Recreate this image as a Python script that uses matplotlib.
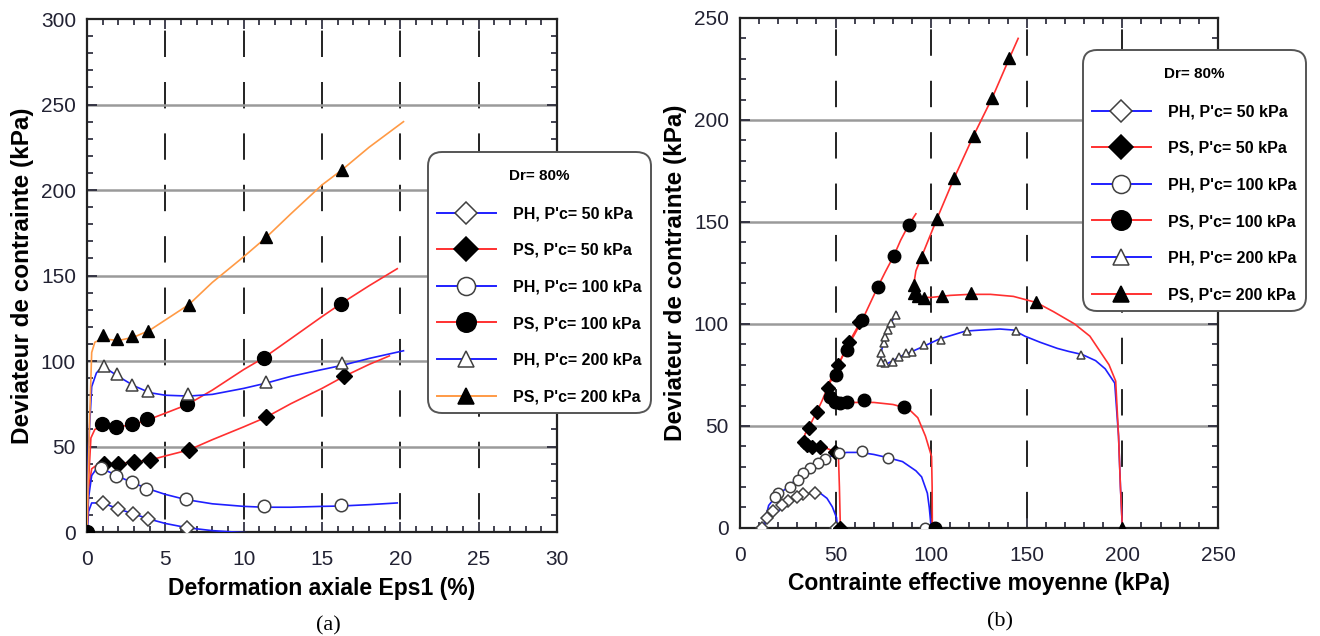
import numpy as np
import matplotlib
matplotlib.use("Agg")
import matplotlib.pyplot as plt
from matplotlib.lines import Line2D
from matplotlib.ticker import MultipleLocator

plt.rcParams['font.family'] = ['Liberation Sans', 'DejaVu Sans']
plt.rcParams['lines.scale_dashes'] = False

# ---------------- (a) deviateur vs deformation axiale ----------------
a_ph50_x = [0, 0.1, 0.3, 1, 2, 3, 4, 5, 6.4, 8, 10.3]
a_ph50_y = [0, 12, 17, 17, 13.5, 10.5, 7.5, 5, 2.5, 0.8, -0.5]
a_ph50_mx = [1.0, 1.95, 2.95, 3.9, 6.4]
a_ph50_my = [17, 13.5, 10.5, 7.6, 2.5]

a_ps50_x = [0, 0.1, 0.3, 0.6, 1, 2, 3, 4, 5, 6.5, 8, 10, 11.4, 13, 15, 16.4, 18, 19.3]
a_ps50_y = [0, 25, 37, 39, 40, 40, 41, 42, 44.5, 48, 54, 61.5, 67, 75, 84, 91, 98, 103]
a_ps50_mx = [1.09, 2.0, 3.0, 4.0, 6.5, 11.4, 16.4]
a_ps50_my = [40, 40, 41, 42, 48, 67, 91]

a_ph100_x = [0, 0.1, 0.3, 0.6, 1, 2, 3, 4, 5, 6.3, 8, 10, 11.3, 13, 15, 16.2, 18, 19.8]
a_ph100_y = [0, 20, 33, 37, 37, 32.5, 28.5, 25, 22, 19, 16.5, 15, 14.5, 14.5, 15, 15.2, 16, 17]
a_ph100_mx = [0.9, 1.85, 2.86, 3.76, 6.3, 11.3, 16.2]
a_ph100_my = [37.4, 33, 29, 25, 19.3, 15, 15.6]

a_ps100_x = [0, 0.1, 0.25, 0.5, 1, 2, 3, 4, 5, 6.4, 8, 10, 11.3, 13, 15, 16.2, 18, 19.8]
a_ps100_y = [0, 30, 55, 60, 62, 61.5, 63, 66, 69.5, 74.5, 83, 95, 102, 113, 126, 133.5, 144, 154]
a_ps100_mx = [0, 0.95, 1.85, 2.85, 3.8, 6.4, 11.3, 16.2]
a_ps100_my = [0, 63, 61.5, 63, 66, 75, 102, 133.5]

a_ph200_x = [0, 0.1, 0.3, 0.6, 1, 2, 3, 4, 5, 6.5, 8, 10, 11.4, 13, 15, 16.3, 18, 20.2]
a_ph200_y = [0, 50, 85, 93, 97, 91, 85.5, 81.5, 80, 79.5, 80.5, 84, 87, 91, 95, 97.5, 101.5, 106]
a_ph200_mx = [1.06, 1.9, 2.9, 3.9, 6.45, 11.4, 16.3]
a_ph200_my = [97, 92.4, 86, 82.5, 81, 87.7, 98.8]

a_ps200_x = [0, 0.15, 0.3, 0.5, 1, 2, 3, 4, 5, 6.5, 8, 10, 11.4, 13, 15, 16.3, 18, 20.2]
a_ps200_y = [0, 60, 105, 111, 113, 112, 114, 118, 124, 133, 146, 161, 172, 186, 203, 212, 225, 240]
a_ps200_mx = [1.0, 1.9, 2.9, 3.9, 6.5, 11.4, 16.3]
a_ps200_my = [115, 113, 114.6, 117.5, 133, 172.5, 212]

# ---------------- (b) chemins de contrainte ----------------
b_ph50_x = [51, 50.5, 48.3, 45.5, 42, 39, 35, 31, 27, 23, 19, 15, 11.6]
b_ph50_y = [0, 5, 10.3, 14.5, 17, 17.5, 16.5, 15, 13, 10.5, 7.5, 4, 0]
b_ph50_mx = [50, 39.4, 33.2, 30, 25.2, 22, 17.4, 14.1, 11.6]
b_ph50_my = [0, 17.2, 16.5, 15, 13, 11, 8.3, 5, 0]

b_ps50_x = [52.5, 52, 51.5, 48, 44, 38, 35, 33.5, 34, 36, 38, 40.5, 43, 45, 48, 51, 54, 57, 60, 63, 65]
b_ps50_y = [0, 20, 35, 38, 39.5, 40, 40.8, 42.5, 46, 49, 53, 57.5, 62.5, 67, 73, 79, 85, 91, 96, 101, 104]
b_ps50_mx = [52.5, 49.9, 42, 37.7, 35, 33.3, 35.9, 40.3, 45.9, 51.1, 56.9, 62.5]
b_ps50_my = [0, 37.4, 39.9, 39.9, 40.7, 42.3, 48.9, 57, 68.5, 79.9, 91.3, 101]

b_ph100_x = [100, 99, 98, 95, 92, 85, 77, 70, 63, 56, 52, 47, 42, 37, 33, 29, 25, 21, 18, 15, 12]
b_ph100_y = [0, 10, 17, 25, 28, 32.5, 34.5, 36, 37, 37, 36.5, 35, 32.5, 29.5, 27, 23.5, 20, 17, 14.5, 11, 0]
b_ph100_mx = [97, 77.2, 63.6, 52, 44.6, 41, 36.8, 33.2, 30.5, 26.3, 20, 18.4]
b_ph100_my = [0, 34.3, 37.7, 36.8, 34, 31.8, 29.4, 27, 23.5, 20.1, 17.2, 15.2]

b_ps100_x = [100.6, 100.5, 100.2, 97, 93, 88, 80, 70, 60, 52, 48.5, 46, 45, 47, 50, 53, 56, 60, 64,
             68, 72, 76, 80.5, 84, 88.2, 92]
b_ps100_y = [0, 20, 35, 45, 54, 58.5, 60.5, 61.5, 61.5, 61.3, 62.5, 65, 68, 72, 77, 83, 88.5, 95, 102,
             110, 118, 125.5, 133.5, 141, 148.5, 154]
b_ps100_mx = [101.9, 85.8, 64.8, 56, 52.5, 49.9, 47.3, 50.4, 56, 63.9, 72, 80.5, 88.2]
b_ps100_my = [0, 59.2, 62.7, 61.9, 61.1, 61.9, 64.4, 75, 87.3, 102, 118, 133.5, 148.5]

b_ph200_x = [200, 199, 198, 196, 191, 186, 179, 172, 166, 157, 149, 143, 136, 126, 118, 111, 104, 96,
             90, 85, 80, 76, 74, 73.5, 75, 77, 79, 82]
b_ph200_y = [0, 20, 45, 71, 78, 82, 85, 86.5, 88, 91, 94, 97, 97.5, 97, 96.5, 94.5, 92.5, 89,
             86.5, 84.5, 82, 80, 81, 85, 90.5, 97, 100.5, 105.5]
b_ph200_mx = [200, 178.6, 144.4, 118.7, 105, 96, 90, 86.7, 83, 79.8, 76, 73.5, 73.5, 75.1, 76.1,
              77.2, 78.8, 81.4]
b_ph200_my = [0, 85, 96.6, 96.6, 92, 89.7, 86.4, 85.6, 84, 81.5, 80.8, 81.5, 85.6, 90.6, 93.7,
              97, 100.4, 104.4]

b_ps200_x = [200, 199, 198, 196.5, 193, 188, 183, 175, 164, 155, 143, 131, 120, 110, 100, 96, 93, 91,
             91, 92, 95, 103, 112, 122, 132, 141, 145.5]
b_ps200_y = [0, 20, 45, 72, 80, 87, 94, 100, 106, 110.5, 113.5, 114.5, 114.5, 114, 113, 113, 113.5, 116,
             120, 126, 133, 151.5, 171.5, 192, 211, 230.5, 240]
b_ps200_mx = [200, 155, 120.8, 105.6, 96, 93, 91, 91, 95, 103, 112, 122.4, 131.8, 140.8]
b_ps200_my = [0, 110.8, 115, 113.7, 112.7, 113.5, 115, 119, 133, 151.5, 171.6, 192, 211, 230.5]

labels = ["PH, P'c= 50 kPa", "PS, P'c= 50 kPa", "PH, P'c= 100 kPa",
          "PS, P'c= 100 kPa", "PH, P'c= 200 kPa", "PS, P'c= 200 kPa"]

BLUE = '#1f1fff'
RED = '#ff3030'
ORANGE = '#ff9a45'
OPEN_EDGE = '#404040'

fig = plt.figure(figsize=(13.2, 6.36), dpi=100)
axa = fig.add_axes([0.0659, 0.1635, 0.3561, 0.8065])
axb = fig.add_axes([0.5606, 0.170, 0.3621, 0.8017])


def style_axes(ax, xmax, ymax, xmaj, xmin, ymaj, ymin, vlines, hlines, off):
    ax.set_xlim(0, xmax)
    ax.set_ylim(0, ymax)
    ax.xaxis.set_major_locator(MultipleLocator(xmaj))
    ax.xaxis.set_minor_locator(MultipleLocator(xmin))
    ax.yaxis.set_major_locator(MultipleLocator(ymaj))
    ax.yaxis.set_minor_locator(MultipleLocator(ymin))
    ax.tick_params(which='both', direction='in', top=True, right=True, width=1.2,
                   colors='#222233', labelsize=15)
    ax.tick_params(which='major', length=7)
    ax.tick_params(which='minor', length=4)
    ax.tick_params(axis='x', which='major', pad=13)
    ax.tick_params(axis='y', which='major', pad=8)
    for s in ax.spines.values():
        s.set_linewidth(1.6)
        s.set_color('#222222')
    for v in vlines:
        ax.axvline(v, color='#222222', lw=1.4, ls=(off, (19, 18)), zorder=1)
    for h in hlines:
        ax.axhline(h, color='#9a9a9a', lw=1.8, zorder=1)


style_axes(axa, 30, 300, 5, 1, 50, 10, [5, 10, 15, 20, 25], [50, 100, 150, 200, 250], 28)
style_axes(axb, 250, 250, 50, 10, 50, 10, [50, 100, 150, 200], [50, 100, 150, 200], 30)


def series(ax, lx, ly, mx, my, color, marker, ms, filled):
    ax.plot(lx, ly, color=color, lw=1.2, zorder=3)
    if filled:
        ax.plot(mx, my, ls='none', marker=marker, ms=ms, mfc='black', mec='black', zorder=4)
    else:
        ax.plot(mx, my, ls='none', marker=marker, ms=ms, mfc='white', mec=OPEN_EDGE,
                mew=1.1, zorder=4)


series(axa, a_ph50_x, a_ph50_y, a_ph50_mx, a_ph50_my, BLUE, 'D', 7, False)
series(axa, a_ps50_x, a_ps50_y, a_ps50_mx, a_ps50_my, RED, 'D', 8, True)
series(axa, a_ph100_x, a_ph100_y, a_ph100_mx, a_ph100_my, BLUE, 'o', 9, False)
series(axa, a_ps100_x, a_ps100_y, a_ps100_mx, a_ps100_my, RED, 'o', 10, True)
series(axa, a_ph200_x, a_ph200_y, a_ph200_mx, a_ph200_my, BLUE, '^', 9, False)
series(axa, a_ps200_x, a_ps200_y, a_ps200_mx, a_ps200_my, ORANGE, '^', 9, True)

series(axb, b_ph50_x, b_ph50_y, b_ph50_mx, b_ph50_my, BLUE, 'D', 6, False)
series(axb, b_ps50_x, b_ps50_y, b_ps50_mx, b_ps50_my, RED, 'D', 7.5, True)
series(axb, b_ph100_x, b_ph100_y, b_ph100_mx, b_ph100_my, BLUE, 'o', 7.5, False)
series(axb, b_ps100_x, b_ps100_y, b_ps100_mx, b_ps100_my, RED, 'o', 9, True)
series(axb, b_ph200_x, b_ph200_y, b_ph200_mx, b_ph200_my, BLUE, '^', 6, False)
series(axb, b_ps200_x, b_ps200_y, b_ps200_mx, b_ps200_my, RED, '^', 8, True)

axa.set_xlabel('Deformation axiale Eps1 (%)', fontsize=16.5, fontweight='bold', labelpad=6)
axa.set_ylabel('Deviateur de contrainte (kPa)', fontsize=17.5, fontweight='bold', labelpad=5)
axb.set_xlabel('Contrainte effective moyenne (kPa)', fontsize=16.5, fontweight='bold', labelpad=5)
axb.set_ylabel('Deviateur de contrainte (kPa)', fontsize=17.5, fontweight='bold', labelpad=5)


def make_handles(ps200_color):
    specs = [(BLUE, 'D', 11, False), (RED, 'D', 12, True), (BLUE, 'o', 13, False),
             (RED, 'o', 14, True), (BLUE, '^', 11, False), (ps200_color, '^', 12, True)]
    hs = []
    for c, m, s, f in specs:
        hs.append(Line2D([], [], color=c, lw=1.4, marker=m, ms=s,
                         mfc='black' if f else 'white',
                         mec='black' if f else OPEN_EDGE, mew=1.1))
    return hs


for hs, anchor in [(make_handles(ORANGE), (428 / 1320, 1 - 152 / 636)),
                   (make_handles(RED), (1083 / 1320, 1 - 50 / 636))]:
    leg = fig.legend(hs, labels, loc='upper left', bbox_to_anchor=anchor,
                     title='\nDr= 80%', title_fontproperties={'weight': 'bold', 'size': 11},
                     prop={'weight': 'bold', 'size': 11.5}, handlelength=3.7,
                     handletextpad=1.1, labelspacing=1.35, borderpad=0.55, borderaxespad=0,
                     fancybox=True, framealpha=1, edgecolor='#555555')
    leg.get_title().set_linespacing(0.45)
    leg._legend_box.sep = 17
    leg.get_frame().set_linewidth(1.4)
    leg.get_frame().set_boxstyle('round', pad=0.0, rounding_size=0.9)
    leg.set_zorder(10)

fig.text(328 / 1320, 1 - 626 / 636, '(a)', fontsize=16, family='Liberation Serif',
         ha='center', va='center')
fig.text(1000 / 1320, 1 - 622 / 636, '(b)', fontsize=16, family='Liberation Serif',
         ha='center', va='center')

fig.savefig('out.png', dpi=100)
